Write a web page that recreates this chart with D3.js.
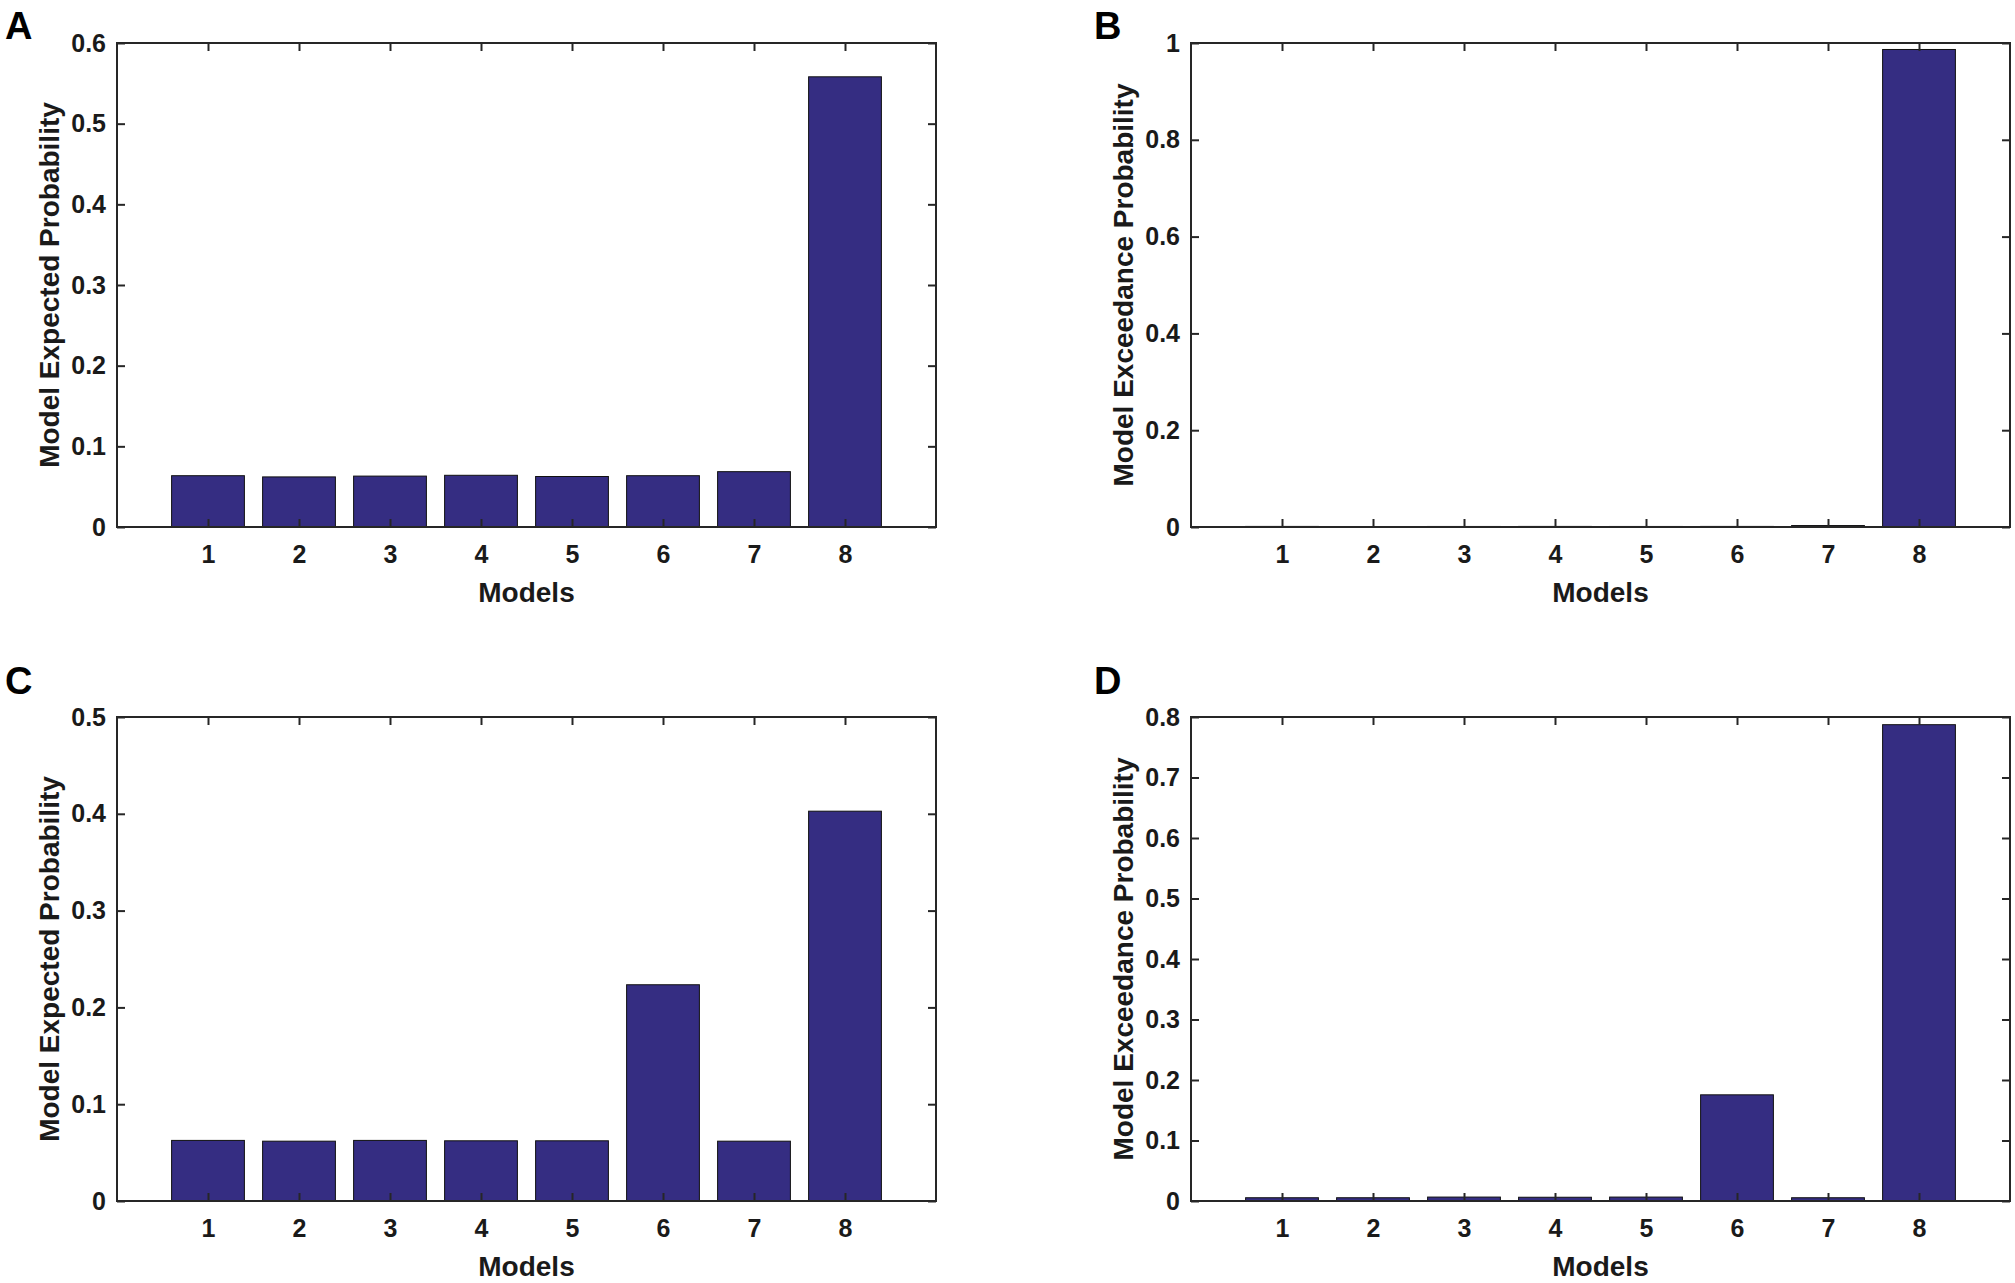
<!DOCTYPE html>
<html>
<head>
<meta charset="utf-8">
<script src="https://cdn.jsdelivr.net/npm/d3@7"></script>
<style>
  body { margin: 0; background: #fff; }
  text { font-family: "Liberation Sans", Arial, Helvetica, sans-serif; font-weight: bold; fill: #1a1a1a; }
</style>
</head>
<body>
<svg width="2015" height="1283"></svg>
<script>
/* Data */

var models = [1, 2, 3, 4, 5, 6, 7, 8];

var expectedA = [0.0636, 0.0621, 0.0631, 0.0641, 0.0626, 0.0636, 0.0686, 0.5581];
var exceedB   = [0.0012, 0.0010, 0.0011, 0.0012, 0.0011, 0.0012, 0.0030, 0.9866];
var expectedC = [0.0626, 0.0618, 0.0626, 0.0622, 0.0622, 0.2234, 0.0618, 0.4027];
var exceedD   = [0.0054, 0.0054, 0.0065, 0.0062, 0.0065, 0.1755, 0.0054, 0.7873];

var yTicksA = [0, 0.1, 0.2, 0.3, 0.4, 0.5, 0.6];
var yTicksB = [0, 0.2, 0.4, 0.6, 0.8, 1];
var yTicksC = [0, 0.1, 0.2, 0.3, 0.4, 0.5];
var yTicksD = [0, 0.1, 0.2, 0.3, 0.4, 0.5, 0.6, 0.7, 0.8];

var letters = ["A", "B", "C", "D"];
var yLabels = ["Model Expected Probability", "Model Exceedance Probability",
               "Model Expected Probability", "Model Exceedance Probability"];
var xLabel = "Models";

/* Layout */

var svg = d3.select("svg");

var pw = 819,
    ph = 484,
    tick = 8,
    tickFont = 25,
    barColor = "#352d82",
    axisColor = "#262626";

var panels = [
  {left: 117,  top: 43,  letterX: 5,    letterY: 39,  values: expectedA, ticks: yTicksA},
  {left: 1191, top: 43,  letterX: 1094, letterY: 39,  values: exceedB,   ticks: yTicksB},
  {left: 117,  top: 717, letterX: 5,    letterY: 694, values: expectedC, ticks: yTicksC},
  {left: 1191, top: 717, letterX: 1094, letterY: 694, values: exceedD,   ticks: yTicksD}
];

var fmt = (d) => d === 0 ? "0" : d === 1 ? "1" : d3.format(".1f")(d);

panels.forEach((p, i) => {
  var g = svg.append("g")
    .attr("transform", `translate(${p.left},${p.top})`);

  var x = d3.scaleLinear().domain([0, 9]).range([0, pw]);
  var y = d3.scaleLinear().domain([0, d3.max(p.ticks)]).range([ph, 0]);
  var bw = x(0.8) - x(0);

  // bars
  g.selectAll(".bar")
    .data(p.values)
    .enter().append("rect")
    .classed("bar", true)
    .attr("x", (d, j) => x(models[j]) - bw / 2)
    .attr("y", (d) => y(d))
    .attr("width", bw)
    .attr("height", (d) => ph - y(d))
    .attr("fill", barColor)
    .attr("stroke", "#111")
    .attr("stroke-width", 1);

  // axes (ticks inward on all sides)
  var styleAxis = (sel) => {
    sel.select(".domain").remove();
    sel.selectAll("line").attr("stroke", axisColor).attr("stroke-width", 2);
    sel.selectAll("text").style("font-size", tickFont + "px").attr("fill", "#1a1a1a");
  };

  g.append("g")
    .attr("transform", `translate(0,${ph})`)
    .call(d3.axisBottom(x).tickValues(models).tickSize(-tick).tickPadding(18).tickFormat(d3.format("d")))
    .call(styleAxis);

  g.append("g")
    .call(d3.axisTop(x).tickValues(models).tickSize(-tick).tickFormat(""))
    .call(styleAxis);

  g.append("g")
    .call(d3.axisLeft(y).tickValues(p.ticks).tickSize(-tick).tickPadding(11).tickFormat(fmt))
    .call(styleAxis);

  g.append("g")
    .attr("transform", `translate(${pw},0)`)
    .call(d3.axisRight(y).tickValues(p.ticks).tickSize(-tick).tickFormat(""))
    .call(styleAxis);

  g.selectAll(".tick text").attr("font-family", "Liberation Sans, Arial, sans-serif");

  // box
  g.append("rect")
    .attr("width", pw)
    .attr("height", ph)
    .attr("fill", "none")
    .attr("stroke", axisColor)
    .attr("stroke-width", 2);

  // labels
  g.append("text")
    .attr("x", pw / 2)
    .attr("y", ph + 75)
    .attr("text-anchor", "middle")
    .style("font-size", "28px")
    .text(xLabel);

  g.append("text")
    .attr("transform", `translate(-58,${ph / 2}) rotate(-90)`)
    .attr("text-anchor", "middle")
    .style("font-size", "28px")
    .text(yLabels[i]);

  svg.append("text")
    .attr("x", p.letterX)
    .attr("y", p.letterY)
    .style("font-size", "38px")
    .style("fill", "#000")
    .text(letters[i]);
});
</script>
</body>
</html>
